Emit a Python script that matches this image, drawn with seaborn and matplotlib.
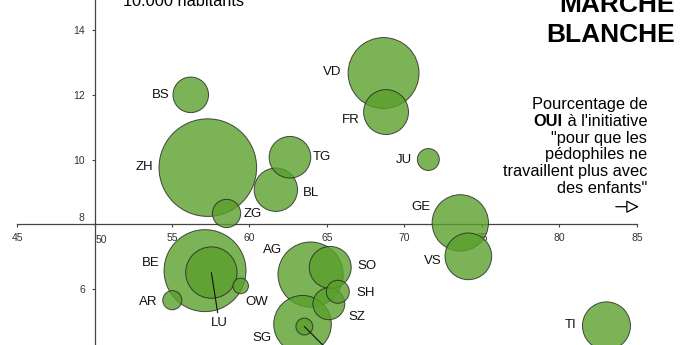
import matplotlib
matplotlib.use("Agg")
import matplotlib.pyplot as plt
import seaborn as sns
import pandas as pd

# ---- data ----
cantons = ["ZH", "BE", "VD", "AG", "SG", "GE", "LU", "TI", "VS", "FR", "BL",
           "SO", "TG", "BS", "SZ", "ZG", "SH", "JU", "AR", "NW", "OW"]
oui_pct = [57.31, 57.13, 68.65, 63.94, 63.42, 73.60, 57.54, 83.03, 74.12, 68.81, 61.70,
           65.21, 62.61, 56.21, 65.12, 58.52, 65.70, 71.54, 55.02, 63.54, 59.43]
taux = [9.75, 6.58, 12.66, 6.46, 4.93, 8.05, 6.52, 4.88, 7.02, 11.46, 9.07,
        6.68, 10.07, 11.99, 5.56, 8.34, 5.93, 10.00, 5.67, 4.86, 6.11]
population = [1408, 992, 744, 627, 491, 469, 390, 341, 322, 298, 278,
              260, 256, 187, 150, 118, 78, 71, 54, 42, 36]
x_ticks = [45, 50, 55, 60, 65, 70, 75, 80, 85]
y_ticks = [6, 8, 10, 12, 14]

df = pd.DataFrame({"canton": cantons, "oui": oui_pct, "taux": taux, "pop": population})

# ---- label layout (offsets in pixels: dx, dy with y up) ----
label_layout = {
    "BS": (-21.4, 0, "right"), "VD": (-41.8, 1, "right"), "FR": (-26, -7.5, "right"),
    "JU": (-16.6, 0, "right"), "GE": (-29.3, 15.7, "right"), "VS": (-26.6, -4.7, "right"),
    "TI": (-29.8, 1, "right"), "TG": (22.7, 0, "left"), "BL": (26.9, -3.6, "left"),
    "ZH": (-54.5, 1, "right"), "ZG": (16.8, -1, "left"), "BE": (-45.7, 7.5, "right"),
    "AR": (-14.6, -1.4, "right"), "OW": (4.3, -15.7, "left"), "AG": (-28.8, 24.5, "right"),
    "SO": (27.1, 1.8, "left"), "SH": (18.2, -1.6, "left"), "SZ": (19.5, -12.9, "left"),
    "SG": (-30.8, -13.8, "right"),
}

W, H, DPI = 690, 345, 100
PT = 72 / DPI
FONT = "Liberation Sans"

sns.set_theme(style="white")
plt.rcParams["font.family"] = [FONT, "DejaVu Sans"]

fig = plt.figure(figsize=(W / DPI, H / DPI), dpi=DPI)
ax = fig.add_axes([0, 0, 1, 1])
ax.set_facecolor("white")

r_max = 48.8  # px radius of the largest bubble
s_max = (2 * r_max * PT) ** 2
sns.scatterplot(data=df, x="oui", y="taux", size="pop", sizes=(0, s_max),
                size_norm=(0, max(population)), color="#5aa02c", alpha=0.8,
                edgecolor="#222222", linewidth=0.7, legend=False, ax=ax, zorder=3)

ax.set_xlim(43.903, 88.42)
ax.set_ylim(4.292, 14.908)
ax.set_xlabel("")
ax.set_ylabel("")

for s in ["top", "right"]:
    ax.spines[s].set_visible(False)
ax.spines["left"].set_position(("data", 50))
ax.spines["bottom"].set_position(("data", 8))
ax.spines["bottom"].set_bounds(45, 85)
for s in ["left", "bottom"]:
    ax.spines[s].set_color("#444444")
    ax.spines[s].set_linewidth(0.9)
    ax.spines[s].set_zorder(2)

TICK_FS = 7.5
ax.set_xticks(x_ticks)
ax.set_xticklabels(["" if v == 50 else str(v) for v in x_ticks])
ax.set_yticks(y_ticks)
ax.set_yticklabels(["" if v == 8 else str(v) for v in y_ticks])
ax.tick_params(axis="x", direction="out", length=2.5, width=0.8, color="#444444",
               pad=3.5, labelsize=TICK_FS, labelcolor="#333333", bottom=True)
ax.tick_params(axis="y", direction="out", length=2, width=0.8, color="#444444",
               pad=5, labelsize=TICK_FS, labelcolor="#333333", left=True)
ax.grid(False)

# shifted tick labels that would collide with the crossing axes
ax.annotate("50", (50, 8), xytext=(1.5 * PT, -15.5 * PT), textcoords="offset points",
            ha="left", va="center", fontsize=TICK_FS, color="#333333")
ax.annotate("8", (50, 8), xytext=(-10 * PT, 6 * PT), textcoords="offset points",
            ha="right", va="center", fontsize=TICK_FS, color="#333333")

# canton labels
for c, xv, yv in zip(cantons, oui_pct, taux):
    if c in label_layout:
        dx, dy, ha = label_layout[c]
        ax.annotate(c, (xv, yv), xytext=(dx * PT, dy * PT), textcoords="offset points",
                    ha=ha, va="center", fontsize=9.5, color="#111111", zorder=5)

# LU label with leader line
i = cantons.index("LU")
ax.annotate("LU", (oui_pct[i], taux[i]), xytext=(8 * PT, -50.8 * PT),
            textcoords="offset points", ha="center", va="center", fontsize=9.5,
            color="#111111", zorder=5,
            arrowprops=dict(arrowstyle="-", color="#111111", lw=0.8,
                            shrinkA=1, shrinkB=0))
# leader line of the small bubble inside SG (label off the picture)
i = cantons.index("NW")
ax.annotate("", (oui_pct[i], taux[i]), xytext=(30 * PT, -30 * PT),
            textcoords="offset points", zorder=5,
            arrowprops=dict(arrowstyle="-", color="#111111", lw=0.8,
                            shrinkA=0, shrinkB=0))

def fx(px):
    return px / W

def fy(py):
    return (H - py) / H

# title
fig.text(fx(675), fy(11.7), "MARCHE", ha="right", va="baseline", fontsize=19,
         weight="bold", color="black")
fig.text(fx(675), fy(42.3), "BLANCHE", ha="right", va="baseline", fontsize=19,
         weight="bold", color="black")

# y-axis description (only its last line is visible)
fig.text(fx(123), fy(6), "10.000 habitants", ha="left", va="baseline",
         fontsize=11.8, color="black")

# x-axis description
txt_fs = 11.8
right = fx(647.3)
lines = ["Pourcentage de", None, "\"pour que les", "pédophiles ne",
         "travaillent plus avec", "des enfants\""]
baselines = [109.3, 126.0, 142.7, 159.4, 176.1, 192.8]
renderer = fig.canvas.get_renderer()
for line, b in zip(lines, baselines):
    if line is None:
        t = fig.text(right, fy(b), " à l'initiative", ha="right", va="baseline",
                     fontsize=txt_fs, color="black")
        bb = t.get_window_extent(renderer=renderer)
        fig.text(bb.x0 / W, fy(b), "OUI", ha="right", va="baseline",
                 fontsize=txt_fs, weight="bold", color="black")
    else:
        fig.text(right, fy(b), line, ha="right", va="baseline",
                 fontsize=txt_fs, color="black")

# arrow
fig.patches.append(matplotlib.patches.FancyArrowPatch(
    (fx(613), fy(206.7)), (fx(641.7), fy(206.7)), transform=fig.transFigure,
    arrowstyle="-|>,head_length=0.55,head_width=0.28", mutation_scale=14,
    fc="white", ec="black", lw=0.9))

fig.savefig("out.png", dpi=DPI, facecolor="white")
